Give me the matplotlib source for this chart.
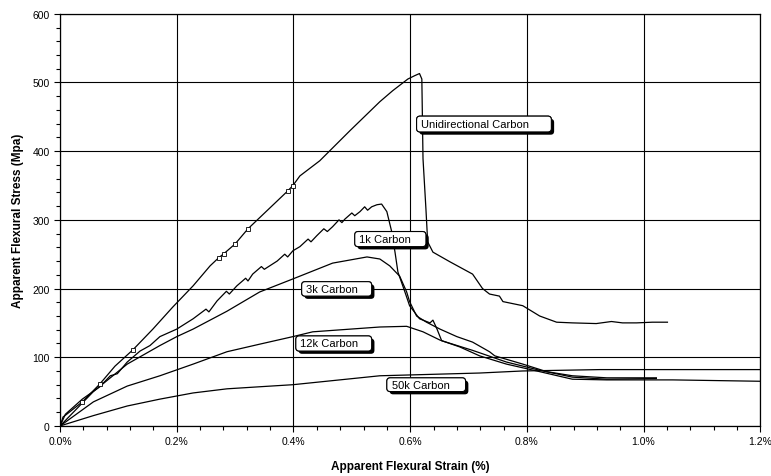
import numpy as np
import matplotlib.pyplot as plt
import matplotlib.patheffects as pe
from matplotlib.patches import FancyBboxPatch
from matplotlib.ticker import MultipleLocator, FuncFormatter

plt.rcParams['font.family'] = ['Liberation Sans', 'DejaVu Sans']

# Unidirectional carbon (strain %, stress MPa)
uni_x = [0, 0.005, 0.012, 0.038, 0.068, 0.094, 0.125, 0.159, 0.193, 0.228, 0.257,
         0.272, 0.281, 0.300, 0.322, 0.390, 0.399, 0.411, 0.445, 0.497, 0.548,
         0.570, 0.596, 0.608, 0.616, 0.620, 0.622, 0.627, 0.630, 0.639, 0.668,
         0.707, 0.724, 0.736, 0.753, 0.759, 0.793, 0.822, 0.851, 0.878, 0.919,
         0.945, 0.964, 0.988, 1.015, 1.041]
uni_y = [0, 13, 17.5, 35, 61, 87, 111, 141, 173, 204, 233,
         245, 251, 265, 287, 342, 350, 364, 386, 430, 472,
         488, 505, 510, 513, 505, 389, 316, 268, 253, 239,
         221, 200, 192, 189, 181, 175, 160, 151, 150, 149,
         152, 150, 150, 151, 151]
uni_mk_x = [0.038, 0.068, 0.125, 0.272, 0.281, 0.300, 0.322, 0.390, 0.399]
uni_mk_y = [35, 61, 111, 245, 251, 265, 287, 342, 350]

# 1k carbon
k1_x = [0, 0.009, 0.038, 0.068, 0.086, 0.098, 0.115, 0.137, 0.154, 0.171, 0.200,
        0.228, 0.250, 0.255, 0.269, 0.285, 0.290, 0.303, 0.318, 0.322, 0.330,
        0.345, 0.350, 0.372, 0.385, 0.390, 0.399, 0.411, 0.425, 0.430, 0.440,
        0.452, 0.458, 0.467, 0.478, 0.483, 0.488, 0.500, 0.505, 0.514, 0.522,
        0.527, 0.534, 0.543, 0.551, 0.560, 0.568, 0.574, 0.579, 0.591, 0.599,
        0.616, 0.634, 0.639, 0.646, 0.654, 0.707, 0.765, 0.822, 0.878, 0.937,
        1.022]
k1_y = [0, 17, 39, 57, 73, 76, 93, 109, 117, 130, 141,
        156, 170, 166, 182, 196, 192, 204, 215, 211, 221,
        232, 228, 240, 250, 246, 255, 261, 272, 268, 277,
        287, 283, 290, 300, 296, 301, 310, 306, 312, 319,
        314, 319, 322, 323, 312, 284, 253, 224, 195, 175,
        156, 150, 154, 141, 124, 110, 93, 81, 71, 68,
        69]

# 3k carbon
k3_x = [0, 0.057, 0.115, 0.171, 0.200, 0.228, 0.286, 0.342, 0.399, 0.467, 0.526,
        0.548, 0.565, 0.582, 0.594, 0.599, 0.611, 0.628, 0.651, 0.680, 0.707,
        0.736, 0.745, 0.793, 0.834, 0.878, 0.937, 1.022]
k3_y = [0, 50, 90, 117, 130, 141, 167, 195, 214, 237, 246,
        243, 233, 218, 195, 181, 160, 151, 141, 130, 122,
        108, 102, 90, 79, 73, 70, 70]

# 12k carbon
k12_x = [0, 0.057, 0.115, 0.171, 0.228, 0.286, 0.342, 0.399, 0.433, 0.548, 0.594,
         0.622, 0.651, 0.685, 0.719, 0.765, 0.822, 0.878, 0.937, 1.050, 1.200]
k12_y = [0, 35, 58, 73, 90, 108, 119, 130, 137, 144, 145,
         137, 125, 115, 102, 90, 79, 68, 67, 67, 65]

# 50k carbon
k50_x = [0, 0.057, 0.115, 0.171, 0.228, 0.286, 0.342, 0.399, 0.548, 0.719, 0.793,
         0.925, 1.200]
k50_y = [0, 15, 29, 39, 48, 54, 57, 60, 73, 77, 80, 82, 82]

# label boxes: left, right, bottom, top (data units)
labels = ['Unidirectional Carbon', '1k Carbon', '3k Carbon', '12k Carbon', '50k Carbon']
box_l = [0.611, 0.505, 0.414, 0.404, 0.560]
box_r = [0.842, 0.627, 0.534, 0.534, 0.695]
box_b = [428, 261, 189, 109, 50]
box_t = [451, 283, 210, 131, 70]

fig = plt.figure(figsize=(7.71, 4.77), dpi=100)
ax = fig.add_axes([0.078, 0.105, 0.908, 0.864])

for xs, ys in [(uni_x, uni_y), (k1_x, k1_y), (k3_x, k3_y), (k12_x, k12_y), (k50_x, k50_y)]:
    ax.plot(xs, ys, color='black', lw=0.9)
ax.plot(uni_mk_x, uni_mk_y, ls='none', marker='s', ms=3, mfc='white', mec='black', mew=0.6)

# x-units per pixel vs y-units per pixel
asp = (600 / 412) / (1.2 / 701)
for t, l, r, b, tp in zip(labels, box_l, box_r, box_b, box_t):
    box = FancyBboxPatch((l, b), r - l, tp - b, boxstyle='round,pad=0,rounding_size=0.006',
                         mutation_aspect=asp, fc='white', ec='black', lw=0.8, zorder=5)
    box.set_path_effects([pe.withSimplePatchShadow(offset=(2, -2), shadow_rgbFace='black', alpha=1),
                          pe.Normal()])
    ax.add_patch(box)
    ax.text(l + 0.008, (b + tp) / 2, t, fontsize=8, ha='left', va='center', zorder=6)

ax.set_xlim(0, 1.2)
ax.set_ylim(0, 600)
ax.xaxis.set_major_locator(MultipleLocator(0.2))
ax.xaxis.set_minor_locator(MultipleLocator(0.04))
ax.yaxis.set_major_locator(MultipleLocator(100))
ax.yaxis.set_minor_locator(MultipleLocator(20))
ax.xaxis.set_major_formatter(FuncFormatter(lambda v, p: f'{v:.1f}%'))
ax.grid(True, which='major', color='black', lw=0.8)
ax.tick_params(which='both', direction='out', colors='black', labelsize=7.5, width=0.8)
ax.tick_params(which='major', length=4)
ax.tick_params(which='minor', length=3)
for s in ax.spines.values():
    s.set_linewidth(0.9)

ax.set_xlabel('Apparent Flexural Strain (%)', fontsize=8.5, fontweight='bold', labelpad=10)
ax.set_ylabel('Apparent Flexural Stress (Mpa)', fontsize=8.5, fontweight='bold', labelpad=6)

fig.savefig('out.png', dpi=100)
